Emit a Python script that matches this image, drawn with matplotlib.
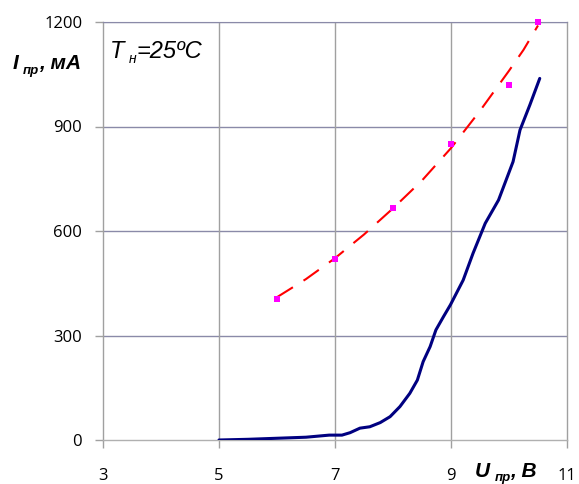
import matplotlib
matplotlib.use("Agg")
import matplotlib.pyplot as plt

# Data
meas_u = [6.0, 7.0, 8.0, 9.0, 10.0, 10.5]
meas_i = [405, 520, 665, 850, 1020, 1200]

trend_u = [6.0, 6.5, 7.0, 7.5, 8.0, 8.5, 9.0, 9.5, 10.0, 10.25, 10.5]
trend_i = [410, 462, 522, 590, 665, 745, 838, 945, 1060, 1120, 1190]

curve_u = [5.0, 5.5, 6.0, 6.5, 6.9, 7.12, 7.26, 7.43, 7.6, 7.78, 7.95, 8.12, 8.29,
           8.42, 8.52, 8.64, 8.74, 8.87, 8.99, 9.21, 9.38, 9.59, 9.82, 10.07,
           10.19, 10.36, 10.53]
curve_i = [0, 2, 5, 8, 14, 14, 21, 34, 38, 50, 67, 96, 134,
           172, 225, 268, 316, 354, 388, 459, 536, 622, 689, 799,
           890, 962, 1038]

x_ticks = [3, 5, 7, 9, 11]
y_ticks = [0, 300, 600, 900, 1200]

fig = plt.figure(figsize=(5.79, 4.84), dpi=100)
ax = fig.add_axes([103/579, 1-440/484, (567-103)/579, (440-22)/484])
ax.set_xlim(3, 11)
ax.set_ylim(0, 1200)

hcol = '#8a8aa8'
vcol = '#a0a0a0'
for y in y_ticks[1:]:
    ax.axhline(y, color=hcol, lw=1.0, zorder=1)
for x in x_ticks[1:-1]:
    ax.axvline(x, color=vcol, lw=1.0, zorder=1)

for s in ['left', 'bottom', 'right']:
    ax.spines[s].set_color(vcol)
    ax.spines[s].set_linewidth(1.0)
ax.spines['top'].set_color(hcol)
ax.spines['bottom'].set_color('#b0b0b0')

ax.plot(curve_u, curve_i, color='#000080', lw=2.2, zorder=3,
        solid_capstyle='round', solid_joinstyle='round')
ax.plot(trend_u, trend_i, color='#ff0000', lw=1.5, dashes=(9, 6), zorder=3)
ax.plot(meas_u, meas_i, linestyle='none', marker='s', markersize=4,
        color='#ff00ff', markeredgewidth=0, zorder=4, clip_on=False)

ax.set_xticks(x_ticks)
ax.set_yticks(y_ticks)
tickfont = 'Open Sans'
ax.tick_params(axis='both', direction='out', length=6, width=1.0, color=vcol,
               labelsize=12)
ax.tick_params(axis='x', pad=14)
ax.tick_params(axis='y', pad=9)
for lab in ax.get_xticklabels() + ax.get_yticklabels():
    lab.set_fontfamily(tickfont)

# Y-axis label: I_пр, мА
lab_font = dict(family='Liberation Sans', fontweight='bold', fontstyle='italic')
t1 = fig.text(13/579, 1-69/484, 'I', fontsize=15, **lab_font)
t2 = ax.annotate('пр', xy=(1, 0), xycoords=t1, xytext=(3, -3),
                 textcoords='offset points', fontsize=9.5, va='bottom', **lab_font)
t3 = ax.annotate(', мА', xy=(1, 0), xycoords=t2, xytext=(0, 3),
                 textcoords='offset points', fontsize=15, va='bottom', **lab_font)

# X-axis label: U_пр, В
u1 = fig.text(475/579, 1-477/484, 'U', fontsize=15, **lab_font)
u2 = ax.annotate('пр', xy=(1, 0), xycoords=u1, xytext=(3, -2.5),
                 textcoords='offset points', fontsize=9.5, va='bottom', **lab_font)
u3 = ax.annotate(', В', xy=(1, 0), xycoords=u2, xytext=(0, 2.5),
                 textcoords='offset points', fontsize=15, va='bottom', **lab_font)

# Annotation T_н = 25ºC
it_font = dict(family='Liberation Sans', fontstyle='italic')
a1 = fig.text(110/579, 1-58/484, 'T', fontsize=17, **it_font)
a2 = ax.annotate('н', xy=(1, 0), xycoords=a1, xytext=(3, -2),
                 textcoords='offset points', fontsize=10, va='bottom', **it_font)
a3 = ax.annotate('=25ºC', xy=(1, 0), xycoords=a2, xytext=(0, 2),
                 textcoords='offset points', fontsize=17, va='bottom', **it_font)

fig.savefig('out.png', dpi=100)
